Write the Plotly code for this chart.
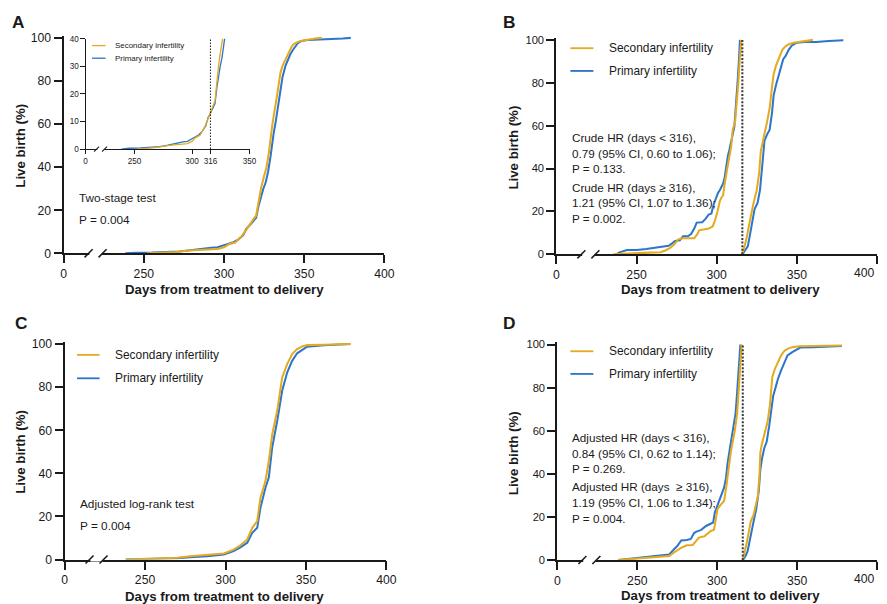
import plotly.graph_objects as go

# ---------------- data ----------------
# Panel A: crude cumulative live birth, two-stage test
days_A_sec = [252, 262, 270, 278, 287, 296, 300, 303, 307, 311, 314, 316, 318, 320, 321.5, 323, 325, 326.5,
              328, 329, 330, 331, 332, 333, 334, 335.2, 336.5, 338.3, 340, 341.5, 343, 345, 347.7, 351, 354, 357, 361]
live_A_sec = [0, 0.2, 0.6, 1.3, 1.7, 2.0, 2.8, 4.2, 5.0, 8.0, 11, 13.5, 15.5, 17.5, 24, 30, 36, 40,
              47, 54, 59, 64, 68, 73, 78, 84, 87, 90, 93, 95, 96.8, 97.8, 98.6, 99.2, 99.4, 99.7, 100]
days_A_pri = [238.5, 245, 255, 265, 272, 279, 285, 288, 292, 296, 299, 303, 306, 309, 312, 314, 316, 318, 320,
              321.5, 323, 324.5, 326, 327.5, 329, 330, 331, 332, 333, 334, 335.2, 336.5, 338.3, 340, 341.4, 343,
              344.5, 346, 348, 352, 356, 362, 368, 374, 379]
live_A_pri = [0, 0.3, 0.4, 0.6, 0.9, 1.4, 2.0, 2.4, 2.6, 2.8, 3.4, 4.5, 5.2, 6.5, 8.5, 11.5, 13, 15, 16.5,
              22, 26.5, 30, 33, 38, 45, 51, 56, 60, 65, 70, 77, 82, 87, 90.5, 92.5, 94.5,
              96, 97.5, 98.5, 99, 99.1, 99.2, 99.4, 99.7, 100]

# Panel B: crude, split at day 316
days_B_sec_pre = [235.5, 242, 250, 258, 265, 268, 271, 274, 276, 279, 286, 288, 289, 292, 295, 297.5, 299, 300.5,
                  302, 303, 304, 305, 306, 307.5, 309, 310, 311.5, 312.5, 313.5, 314.3, 315, 315.3]
live_B_sec_pre = [0, 0.3, 0.6, 0.8, 1.0, 1.8, 3.0, 5, 7, 7.5, 7.5, 9.5, 11.2, 11.5, 12, 13, 16, 20,
                  25, 26.5, 27.5, 33, 38, 44, 50, 58, 62, 70, 80, 90, 97, 100]
days_B_pri_pre = [237.5, 239, 244, 250, 256, 263, 270, 272, 274, 277, 279, 282, 284, 286, 287.5, 291, 293, 295,
                  296.7, 298, 300.8, 302, 304, 305, 306, 307, 308, 309, 310, 311, 312, 313, 314, 314.5]
live_B_pri_pre = [0, 0.8, 2, 2, 2.5, 3.3, 4, 5, 6.2, 6.5, 8.4, 8.4, 9.5, 12, 14.8, 15, 16.5, 18.5,
                  19, 23, 28.6, 30, 33, 36, 42, 46, 49, 52, 56, 59.5, 68, 80, 92, 100]
days_B_sec_post = [316, 317, 318.5, 320, 321.5, 323, 325, 326.5, 327.5, 328.5, 330, 331.5, 333, 334.5, 335.5,
                   337, 339, 341, 343, 345, 348, 352, 356, 360]
live_B_sec_post = [0, 2.6, 7, 13, 19, 24, 30, 38, 48, 52, 57, 62, 68, 78, 84,
                   88, 92, 95.5, 97, 98, 98.7, 99.2, 99.6, 100]
days_B_pri_post = [316, 317.5, 319.4, 320.5, 322, 323.6, 325.5, 327, 328.5, 329.8, 331.5, 333, 334.5, 335.5,
                   337, 338.5, 340, 341.5, 343, 345, 347, 350, 355, 362, 370, 379]
live_B_pri_post = [0, 1.5, 3.7, 8, 14, 21, 24, 30, 42, 53, 56, 58, 66, 74,
                   79, 83, 87, 91, 92.5, 95.5, 97.5, 98.7, 99, 99, 99.5, 99.8]

# Panel C: adjusted cumulative live birth
days_C_sec = [238, 255, 270, 278, 288.6, 299, 305, 309, 313.5, 316.6, 319.7, 321.7, 324.8, 326.9, 329, 332.1,
              335.2, 338.3, 341.4, 344.5, 347.6, 350.7, 361, 370, 377.6]
live_C_sec = [0, 0.3, 0.8, 1.5, 2, 2.8, 4.6, 6.5, 9.3, 14.7, 17.8, 28.7, 36.4, 45.7, 58, 69,
              84.5, 90.7, 95.3, 97.7, 98.9, 99.5, 99.7, 99.9, 100]
days_C_pri = [238, 255, 270, 278, 288.6, 299, 305, 309, 313.5, 316.6, 319.7, 321.7, 324.8, 326.9, 329, 332.1,
              335.2, 338.3, 341.4, 344.5, 347.6, 350.7, 361, 370, 377.6]
live_C_pri = [0, 0.2, 0.6, 1.1, 1.5, 2.3, 3.9, 5.5, 7.8, 12.4, 14.7, 24, 33.3, 38, 52, 64.3,
              78.3, 86.8, 92.2, 95.7, 97.2, 98.8, 99.4, 99.7, 100]

# Panel D: adjusted, split at day 316
days_D_sec_pre = [238, 245, 255, 265, 270, 273, 277.5, 281, 284.7, 287, 288.5, 292, 296, 298, 299, 300.2, 302,
                  304.3, 305.5, 307, 308.5, 309.5, 311, 312.5, 313.5, 314.5, 315.3]
live_D_sec_pre = [0, 0.4, 0.8, 1.3, 1.9, 3.5, 5.7, 6.8, 7, 9, 10.4, 11, 13.5, 14, 18, 23.6, 25.5,
                  27.4, 33, 42, 50, 54, 60, 68, 80, 92, 100]
days_D_pri_pre = [238, 245, 255, 265, 270, 273, 275, 277.5, 281, 283.5, 285.5, 287, 290, 293, 297.5, 298.5, 300,
                  302, 304.3, 305.5, 306.5, 308, 309.2, 310.1, 311.5, 312.5, 313.5, 314.5]
live_D_pri_pre = [0, 0.6, 1.2, 2.0, 2.6, 5, 6.5, 9.1, 9.3, 9.8, 12.5, 13.2, 14, 15.8, 17.4, 22, 25,
                  29, 33.6, 38, 45, 52, 57, 61.5, 68, 78, 90, 100]
days_D_sec_post = [316, 317, 318.5, 320, 321, 322.8, 324, 325.5, 326.5, 327, 328, 330, 331.5, 333, 334.5, 336,
                   338, 340, 342, 344, 347, 351.5, 360, 370, 378]
live_D_sec_post = [0, 3, 8, 14, 18, 21, 25, 30, 40, 50, 54, 60, 64, 72, 85, 88.5,
                   92, 95, 97, 98, 98.8, 99.2, 99.3, 99.5, 99.6]
days_D_pri_post = [316, 317.5, 319, 320.5, 322.8, 324.5, 326, 327, 328, 329.5, 331, 332.5, 334, 335, 336.5, 338,
                   340, 342, 344, 347, 350, 352, 360, 370, 378]
live_D_pri_post = [0, 1.5, 4, 10, 18, 24, 32, 42, 47, 52, 55, 62, 70, 76, 80, 84,
                   88, 92, 95, 96.5, 98, 98.6, 98.8, 99.1, 99.3]

# axis ticks (the "0" tick sits left of the axis break)
x_tick_vals = [200, 250, 300, 350, 400]
x_tick_text = ["0", "250", "300", "350", "400"]
y_tick_vals = [0, 20, 40, 60, 80, 100]
inset_x_tick_vals = [207.4, 250, 300, 316, 350]
inset_x_tick_text = ["0", "250", "300", "316", "350"]
inset_y_tick_vals = [0, 10, 20, 30, 40]
cut_day = 316

series_names = ["Secondary infertility", "Primary infertility"]
text_A = ["Two-stage test", "P = 0.004"]
text_C = ["Adjusted log-rank test", "P = 0.004"]
text_B = ["Crude HR (days < 316),", "0.79 (95% CI, 0.60 to 1.06);", "P = 0.133.",
          "Crude HR (days \u2265 316),", "1.21 (95% CI, 1.07 to 1.36);", "P = 0.002."]
text_D = ["Adjusted HR (days < 316),", "0.84 (95% CI, 0.62 to 1.14);", "P = 0.269.",
          "Adjusted HR (days  \u2265 316),", "1.19 (95% CI, 1.06 to 1.34);", "P = 0.004."]

# ---------------- styling / layout ----------------
W, H = 887, 604
FONT = "Liberation Sans, Arial, sans-serif"
YEL = "#E4AB22"
BLU = "#2E76CA"
INK = "#1a1a1a"

# the photographed page appears slightly shrunk/offset; positions below are reference pixels
SX, BX = 0.9857, 2.4
SY, BY = 0.978, 5.2
K = 1.0 / (SX * SY) ** 0.5


def fx(px):
    return ((px - BX) / SX) / W


def fy(py):
    return 1 - ((py - BY) / SY) / H


def clamp(v):
    return max(0.0, min(1.0, v))


fig = go.Figure()


def add_line(xs, ys, color, xa, ya, width=2.0):
    fig.add_trace(go.Scatter(x=xs, y=ys, mode="lines", line=dict(color=color, width=width * K),
                             xaxis=xa, yaxis=ya, showlegend=False, hoverinfo="skip"))


# Panel A
add_line(days_A_pri, live_A_pri, BLU, "x", "y")
add_line(days_A_sec, live_A_sec, YEL, "x", "y")
# Panel B
add_line(days_B_pri_pre, live_B_pri_pre, BLU, "x2", "y2")
add_line(days_B_sec_pre, live_B_sec_pre, YEL, "x2", "y2")
add_line(days_B_pri_post, live_B_pri_post, BLU, "x2", "y2")
add_line(days_B_sec_post, live_B_sec_post, YEL, "x2", "y2")
# Panel C
add_line(days_C_pri, live_C_pri, BLU, "x3", "y3")
add_line(days_C_sec, live_C_sec, YEL, "x3", "y3")
# Panel D
add_line(days_D_pri_pre, live_D_pri_pre, BLU, "x4", "y4")
add_line(days_D_sec_pre, live_D_sec_pre, YEL, "x4", "y4")
add_line(days_D_pri_post, live_D_pri_post, BLU, "x4", "y4")
add_line(days_D_sec_post, live_D_sec_post, YEL, "x4", "y4")
# Inset (zoom of panel A)
add_line(days_A_pri, live_A_pri, BLU, "x5", "y5", width=1.3)
add_line(days_A_sec, live_A_sec, YEL, "x5", "y5", width=1.3)

# panel geometry in reference pixels: (x of day 200, x of day 400, y of 0 %, y of 100 %, x-label y)
panels = {
    "": (63, 384, 253, 38, 271.7),
    "2": (556, 878, 254, 40, 272.7),
    "3": (64, 386, 558.5, 343.5, 577),
    "4": (557, 878, 559, 344, 577.7),
}
ytick_size = {"": 12, "2": 11, "3": 12, "4": 11}

layout = dict(
    width=W, height=H, margin=dict(l=0, r=0, t=0, b=0, pad=0),
    paper_bgcolor="white", plot_bgcolor="rgba(0,0,0,0)",
    font=dict(family=FONT, color=INK), showlegend=False,
)

annotations = []
shapes = []

for k, (x0, x1, y0, y100, ylab) in panels.items():
    ytop = y0 - 1.01 * (y0 - y100)
    labels = list(x_tick_text)
    if fx(x1) > 1:
        # the last label would overflow the page: write it right-aligned at the edge instead
        labels[-1] = ""
        annotations.append(dict(xref="paper", yref="paper", x=1.0, y=fy(ylab), text=x_tick_text[-1],
                                showarrow=False, xanchor="right", yanchor="middle",
                                font=dict(family=FONT, size=12 * K, color=INK)))
    layout["xaxis" + k] = dict(
        domain=[clamp(fx(x0)), clamp(fx(x1))], range=[200, 400], anchor="y" + k,
        tickvals=x_tick_vals, ticktext=labels, ticks="outside", ticklen=8 * K, tickwidth=1.6 * K,
        tickcolor=INK, showline=True, linecolor=INK, linewidth=1.8 * K, showgrid=False, zeroline=False,
        tickfont=dict(size=12 * K, color=INK, family=FONT), fixedrange=True,
    )
    layout["yaxis" + k] = dict(
        domain=[clamp(fy(y0)), clamp(fy(ytop))], range=[0, 101], anchor="x" + k,
        tickvals=y_tick_vals, ticks="outside", ticklen=8 * K, tickwidth=1.6 * K,
        tickcolor=INK, showline=True, linecolor=INK, linewidth=1.8 * K, showgrid=False, zeroline=False,
        tickfont=dict(size=ytick_size[k] * K, color=INK, family=FONT), fixedrange=True,
    )

layout["xaxis5"] = dict(
    domain=[fx(85), fx(249)], range=[207.4, 350], anchor="y5",
    tickvals=inset_x_tick_vals, ticktext=inset_x_tick_text, ticks="outside", ticklen=4 * K, tickwidth=1,
    tickcolor=INK, showline=True, linecolor=INK, linewidth=1 * K, showgrid=False, zeroline=False,
    tickfont=dict(size=8 * K, color=INK, family=FONT), fixedrange=True,
)
layout["yaxis5"] = dict(
    domain=[fy(149), fy(39)], range=[0, 40], anchor="x5",
    tickvals=inset_y_tick_vals, ticks="outside", ticklen=4 * K, tickwidth=1,
    tickcolor=INK, showline=True, linecolor=INK, linewidth=1 * K, showgrid=False, zeroline=False,
    tickfont=dict(size=8 * K, color=INK, family=FONT), fixedrange=True,
)


def pline(xa, ya, xb, yb, color=INK, width=1.6, dash="solid"):
    shapes.append(dict(type="line", xref="paper", yref="paper", x0=fx(xa), y0=fy(ya), x1=fx(xb), y1=fy(yb),
                       line=dict(color=color, width=width * K, dash=dash), layer="above"))


def axis_break(xaxis_px, yaxis_px, off1, off2, s, width):
    c1, c2 = xaxis_px + off1, xaxis_px + off2
    shapes.append(dict(type="rect", xref="paper", yref="paper", x0=fx(c1 + 0.8), x1=fx(c2 - 0.8),
                       y0=fy(yaxis_px + 2), y1=fy(yaxis_px - 2), fillcolor="white", line=dict(width=0),
                       layer="above"))
    for c in (c1, c2):
        pline(c - s, yaxis_px + s, c + s, yaxis_px - s, width=width)


for k, (x0, x1, y0, y100, ylab) in panels.items():
    axis_break(x0, y0, 25, 39, 4, 1.5)
axis_break(85, 149, 11, 19, 2.5, 1)

# dotted cut lines at day 316
for xa, ya in (("x2", "y2"), ("x4", "y4")):
    shapes.append(dict(type="line", xref=xa, yref=ya, x0=cut_day, x1=cut_day, y0=0, y1=100,
                       line=dict(color="#3a3a3a", width=2 * K, dash="2px,1.6px"), layer="above"))
shapes.append(dict(type="line", xref="x5", yref="y5", x0=cut_day, x1=cut_day, y0=0, y1=40,
                   line=dict(color=INK, width=1 * K, dash="1.5px,1.5px"), layer="above"))


def text(x, y, s, size, bold=False, xanchor="left", angle=0):
    annotations.append(dict(xref="paper", yref="paper", x=fx(x), y=fy(y), text=("<b>%s</b>" % s) if bold else s,
                            showarrow=False, xanchor=xanchor, yanchor="middle", textangle=angle,
                            font=dict(family=FONT, size=size * K, color=INK)))


# legends (line sample + label)
def legend(xl0, xl1, xt, ys, size, width):
    for name, color, yy in zip(series_names, (YEL, BLU), ys):
        pline(xl0, yy, xl1, yy, color=color, width=width)
        text(xt, yy, name, size)


legend(91.5, 105, 112, (45.7, 58.3), 7.8, 1.3)
legend(570, 593, 606.5, (48.3, 71), 11.7, 1.8)
legend(76.5, 99, 112, (354.3, 377.7), 11.7, 1.8)
legend(570, 593, 606.5, (350.7, 373.3), 11.7, 1.8)

# test annotations
text(76, 198, text_A[0], 11.6)
text(76, 220, text_A[1], 11.6)
text(77, 503.3, text_C[0], 11.6)
text(77, 525, text_C[1], 11.6)
for s, yy in zip(text_B, (137.7, 153.3, 168.7, 187, 202.7, 218.7)):
    text(570, yy, s, 11.5)
for s, yy in zip(text_D, (436.7, 452.7, 467.7, 485.7, 501.7, 517.7)):
    text(570, yy, s, 11.5)

# axis titles
xt = "Days from treatment to delivery"
yt = "Live birth (%)"
text(224, 289, xt, 13, bold=True, xanchor="center")
text(720, 289, xt, 13, bold=True, xanchor="center")
text(224, 595, xt, 13, bold=True, xanchor="center")
text(720, 594.5, xt, 13, bold=True, xanchor="center")
text(20, 146, yt, 13, bold=True, xanchor="center", angle=-90)
text(513, 147, yt, 13, bold=True, xanchor="center", angle=-90)
text(20.5, 451, yt, 13, bold=True, xanchor="center", angle=-90)
text(513, 452, yt, 13, bold=True, xanchor="center", angle=-90)

# panel letters
text(18, 22.5, "A", 17, bold=True, xanchor="center")
text(509, 22, "B", 17, bold=True, xanchor="center")
text(21, 323, "C", 17, bold=True, xanchor="center")
text(509.5, 322.5, "D", 17, bold=True, xanchor="center")

layout["shapes"] = shapes
layout["annotations"] = annotations
fig.update_layout(**layout)

fit_page = (
    "var d=document.documentElement,b=document.body;"
    "d.style.margin=b.style.margin='0';d.style.padding=b.style.padding='0';"
    "d.style.overflow=b.style.overflow='hidden';"
)
fig.write_html("out.html", config={"displayModeBar": False}, post_script=fit_page)
